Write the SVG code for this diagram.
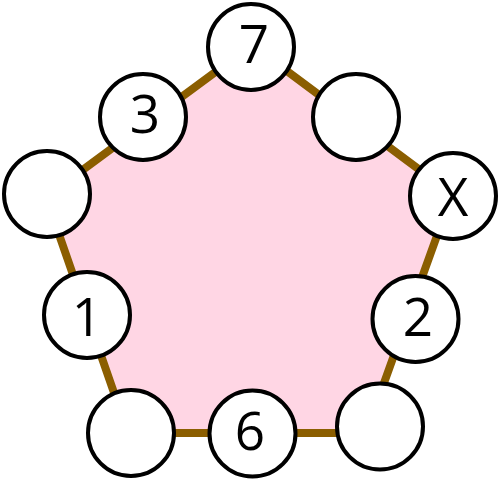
<svg xmlns="http://www.w3.org/2000/svg" width="499" height="480" viewBox="0 0 499 480">
<style>
.node circle{fill:#ffffff;stroke:#000000;stroke-width:4}
.node text{font-family:"Open Sans","Noto Sans","DejaVu Sans",sans-serif;font-size:53px;fill:#000000;text-anchor:middle}
.edge{fill:#ffd6e4;stroke:#8b5e00;stroke-width:8;stroke-linejoin:miter}
</style>
<rect width="499" height="480" fill="#ffffff"/>
<g id="connectors">
<polygon class="edge" points="252,45 452,194 366,433 128,433 46,197"/>
</g>
<g id="n7" class="node"><circle cx="251" cy="47" r="43"/><text x="254" y="63">7</text></g>
<g id="n3" class="node"><circle cx="143" cy="117" r="43"/><text x="145" y="133">3</text></g>
<g id="nTR" class="node"><circle cx="356" cy="117" r="43"/></g>
<g id="nL" class="node"><circle cx="47" cy="194" r="43"/></g>
<g id="nX" class="node"><circle cx="453" cy="196" r="43"/><text x="453" y="216">X</text></g>
<g id="n1" class="node"><circle cx="87" cy="315" r="43"/><text x="87" y="336">1</text></g>
<g id="n2" class="node"><circle cx="415.5" cy="319" r="43"/><text x="418" y="336">2</text></g>
<g id="nBL" class="node"><circle cx="131" cy="433" r="43"/></g>
<g id="n6" class="node"><circle cx="252.5" cy="433.5" r="43"/><text x="250" y="450">6</text></g>
<g id="nBR" class="node"><circle cx="380" cy="426.5" r="43"/></g>
</svg>
